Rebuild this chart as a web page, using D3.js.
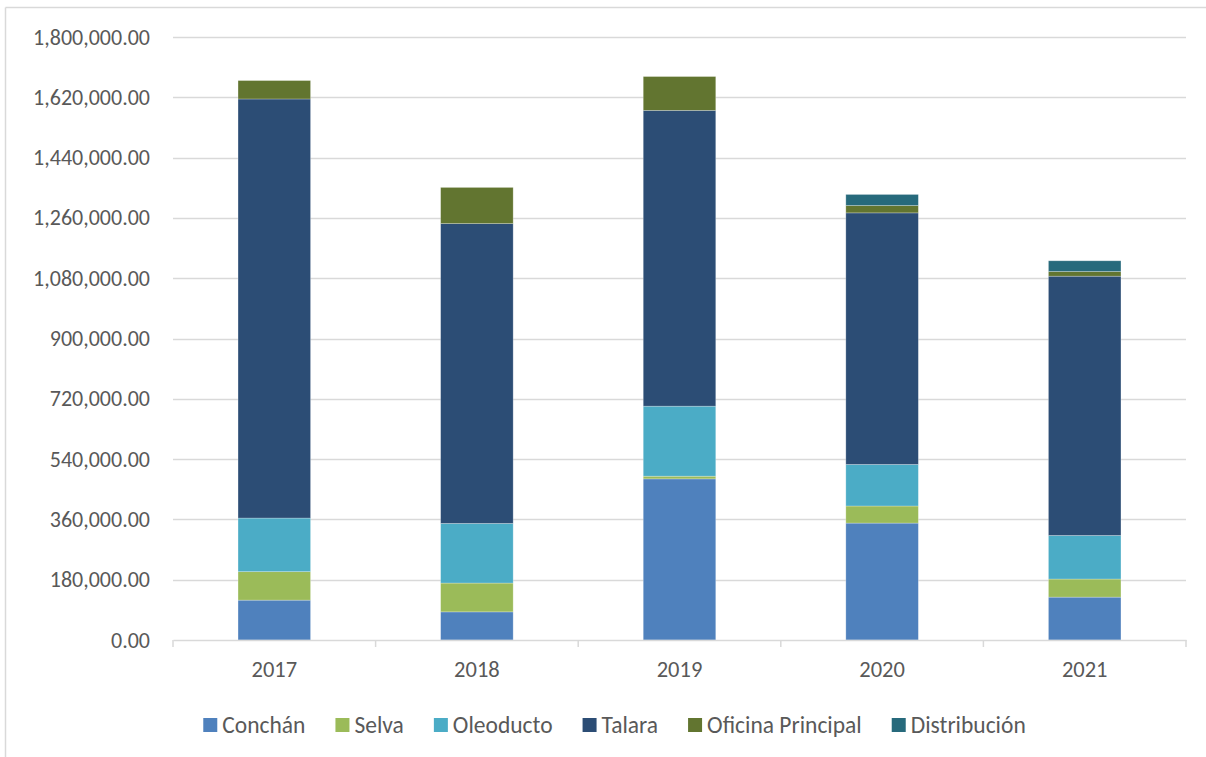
<!DOCTYPE html>
<html>
<head>
<meta charset="utf-8">
<script src="https://cdn.jsdelivr.net/npm/d3@7"></script>
<style>
  html, body { margin: 0; padding: 0; background: #fff; }
  svg { display: block; }
  text { font-family: Carlito, Calibri, Lato, "Open Sans", sans-serif; fill: #595959; }
</style>
</head>
<body>
<svg id="chart" width="1206" height="757"></svg>
<script>
const years = ["2017", "2018", "2019", "2020", "2021"];
const seriesNames = ["Conchán", "Selva", "Oleoducto", "Talara", "Oficina Principal", "Distribución"];
const conchan = [119000, 84000, 481000, 349000, 128000];
const selva = [85000, 86000, 8000, 51000, 54000];
const oleoducto = [160000, 178000, 209000, 124000, 130000];
const talara = [1251000, 895000, 883000, 751000, 774000];
const oficinaPrincipal = [55000, 108000, 101000, 22000, 14000];
const distribucion = [0, 0, 0, 33000, 32000];
const yTicks = [0, 180000, 360000, 540000, 720000, 900000, 1080000, 1260000, 1440000, 1620000, 1800000];
const colors = ["#4F81BD", "#9BBB59", "#4BACC6", "#2C4D75", "#627530", "#276A7C"];

(function () {
const seriesValues = [conchan, selva, oleoducto, talara, oficinaPrincipal, distribucion];
const table = years.map((yr, i) => {
  const row = { year: yr };
  seriesNames.forEach((s, j) => row[s] = seriesValues[j][i]);
  return row;
});

const svg = d3.select("#chart");
const pLeft = 173, pRight = 1186, pTop = 37, pBottom = 640;

// outer border (top and left visible)
svg.append("line").attr("x1", 5.5).attr("x2", 1206).attr("y1", 7.5).attr("y2", 7.5)
  .attr("stroke", "#d9d9d9").attr("stroke-width", 1.5);
svg.append("line").attr("x1", 5.5).attr("x2", 5.5).attr("y1", 7.5).attr("y2", 757)
  .attr("stroke", "#d9d9d9").attr("stroke-width", 1.5);

const x = d3.scaleBand().domain(years).range([pLeft, pRight]).padding(0);
const y = d3.scaleLinear().domain([0, 1800000]).range([pBottom, pTop]);

// gridlines
svg.append("g").selectAll("line").data(yTicks.filter(d => d > 0)).join("line")
  .attr("x1", pLeft).attr("x2", pRight)
  .attr("y1", d => Math.round(y(d)) + 0.5).attr("y2", d => Math.round(y(d)) + 0.5)
  .attr("stroke", "#d9d9d9").attr("stroke-width", 1.5);

// y axis labels
const yAxis = svg.append("g").attr("transform", `translate(${pLeft},0)`)
  .call(d3.axisLeft(y).tickValues(yTicks).tickFormat(d3.format(",.2f")).tickSize(0).tickPadding(23));
yAxis.select(".domain").remove();
yAxis.selectAll("text").style("font-size", "22px").attr("fill", "#595959")
  .style("font-family", "Carlito, Calibri, Lato, sans-serif");

// stacked bars
const stacked = d3.stack().keys(seriesNames)(table);
const barW = x.bandwidth() * 0.358;
svg.append("g").selectAll("g").data(stacked).join("g")
  .attr("fill", (d, i) => colors[i])
  .selectAll("rect").data(d => d).join("rect")
  .attr("x", d => x(d.data.year) + (x.bandwidth() - barW) / 2)
  .attr("width", barW)
  .attr("y", d => y(d[1]))
  .attr("height", d => Math.max(0, y(d[0]) - y(d[1])))
  .attr("stroke", d => (d[1] - d[0]) > 0 ? "rgba(255,255,255,0.35)" : "none")
  .attr("stroke-width", 0.75);

// x axis
const xAxis = svg.append("g").attr("transform", `translate(0,${pBottom})`)
  .call(d3.axisBottom(x).tickSize(0).tickPadding(21));
xAxis.select(".domain").attr("stroke", "#d9d9d9").attr("stroke-width", 1.5);
xAxis.selectAll("text").style("font-size", "22.5px").attr("fill", "#595959")
  .style("font-family", "Carlito, Calibri, Lato, sans-serif");
const edges = years.map(yv => x(yv)).concat([x(years[years.length - 1]) + x.bandwidth()]);
svg.append("g").selectAll("line").data(edges).join("line")
  .attr("x1", d => d).attr("x2", d => d)
  .attr("y1", pBottom).attr("y2", pBottom + 7)
  .attr("stroke", "#d9d9d9").attr("stroke-width", 1.5);

// legend
const legend = svg.append("g");
const items = legend.selectAll("g").data(seriesNames).join("g");
items.append("rect").attr("width", 14).attr("height", 14).attr("y", 718)
  .attr("fill", (d, i) => colors[i]);
items.append("text").text(d => d).attr("x", 19).attr("y", 725).attr("dy", "0.35em")
  .style("font-size", "23.5px");
let cx = 0;
const positions = [];
items.each(function () {
  const w = d3.select(this).select("text").node().getComputedTextLength();
  positions.push(cx);
  cx += 19 + w + 30;
});
const totalW = cx - 30;
const startX = 614.5 - totalW / 2;
items.attr("transform", (d, i) => `translate(${startX + positions[i]},0)`);
})();
</script>
</body>
</html>
